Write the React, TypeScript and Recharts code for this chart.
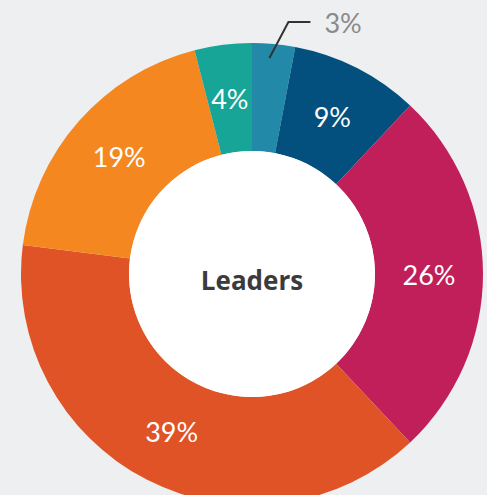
import React from "react";
import { PieChart, Pie, Cell } from "recharts";

const categories = ["A", "B", "C", "D", "E", "F"];
const values = [3, 9, 26, 39, 19, 4];
const labels = ["3%", "9%", "26%", "39%", "19%", "4%"];
const colors = ["#2389a8", "#03507f", "#c11f5a", "#df5326", "#f58720", "#16a597"];
const centerTitle = "Leaders";

const data = categories.map((c, i) => ({ name: c, value: values[i], label: labels[i] }));
const hole = [{ name: "hole", value: 1 }];

const RAD = Math.PI / 180;

const renderLabel = (props: any) => {
  const { cx, cy, midAngle, innerRadius, outerRadius, index } = props;
  if (index === 0) {
    const r = outerRadius - 14;
    const x0 = cx + r * Math.cos(-midAngle * RAD) - 3;
    const y0 = cy + r * Math.sin(-midAngle * RAD);
    const x1 = x0 + 19;
    const y1 = cy - outerRadius - 21;
    const x2 = x1 + 22;
    return (
      <g>
        <polyline points={`${x0},${y0} ${x1},${y1} ${x2},${y1}`} fill="none" stroke="#333" strokeWidth={2} />
        <text x={x2 + 14} y={y1} fill="#8a8a8a" fontSize={27} fontFamily="Lato" dominantBaseline="central" textAnchor="start">
          {labels[index]}
        </text>
      </g>
    );
  }
  const r = (innerRadius + outerRadius) / 2;
  const x = cx + r * Math.cos(-midAngle * RAD);
  const y = cy + r * Math.sin(-midAngle * RAD);
  return (
    <text x={x} y={y} fill="#ffffff" fontSize={27} fontFamily="Lato" textAnchor="middle" dominantBaseline="central">
      {labels[index]}
    </text>
  );
};

const renderCenter = (props: any) => {
  const { cx, cy } = props;
  return (
    <text x={cx} y={cy + 6} fill="#3b3b3b" fontSize={26} fontWeight={700} fontFamily="Open Sans" textAnchor="middle" dominantBaseline="central">
      {centerTitle}
    </text>
  );
};

export default function App() {
  return (
    <div style={{ position: "fixed", left: 0, top: 0, width: 487, height: 495, background: "#edeff1" }}>
      <PieChart width={487} height={495} margin={{ top: 0, right: 0, bottom: 0, left: 0 }}>
        <Pie
          data={data}
          dataKey="value"
          cx={252}
          cy={274}
          innerRadius={123}
          outerRadius={231}
          startAngle={90}
          endAngle={-270}
          stroke="none"
          label={renderLabel}
          labelLine={false}
          isAnimationActive={false}
        >
          {data.map((d, i) => (
            <Cell key={d.name} fill={colors[i]} />
          ))}
        </Pie>
        <Pie
          data={hole}
          dataKey="value"
          cx={252}
          cy={274}
          innerRadius={0}
          outerRadius={123}
          fill="#ffffff"
          stroke="none"
          label={renderCenter}
          labelLine={false}
          isAnimationActive={false}
        />
      </PieChart>
    </div>
  );
}
